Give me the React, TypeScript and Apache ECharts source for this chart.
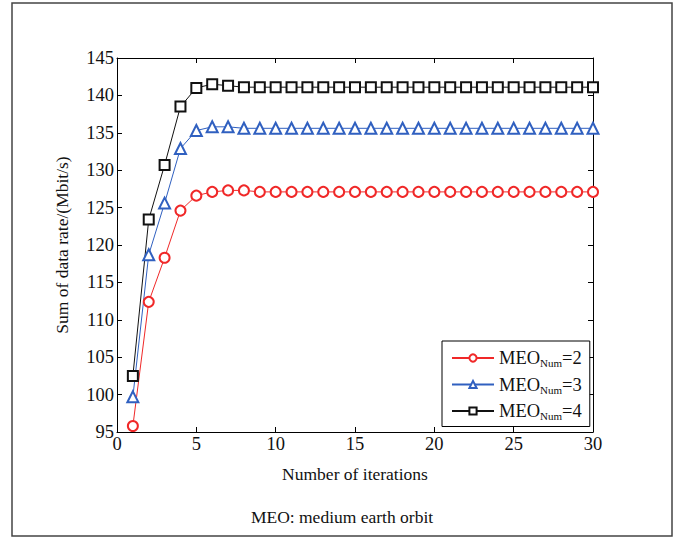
import React, { useEffect, useRef } from "react";
import * as echarts from "echarts";

const iterations = [1,2,3,4,5,6,7,8,9,10,11,12,13,14,15,16,17,18,19,20,21,22,23,24,25,26,27,28,29,30];
const meo2 = [95.8,112.4,118.3,124.6,126.6,127.1,127.3,127.3,127.1,127.1,127.1,127.1,127.1,127.1,127.1,127.1,127.1,127.1,127.1,127.1,127.1,127.1,127.1,127.1,127.1,127.1,127.1,127.1,127.1,127.1];
const meo3 = [99.7,118.7,125.6,132.9,135.3,135.8,135.8,135.6,135.6,135.6,135.6,135.6,135.6,135.6,135.6,135.6,135.6,135.6,135.6,135.6,135.6,135.6,135.6,135.6,135.6,135.6,135.6,135.6,135.6,135.6];
const meo4 = [102.5,123.4,130.7,138.5,141.0,141.5,141.3,141.1,141.1,141.1,141.1,141.1,141.1,141.1,141.1,141.1,141.1,141.1,141.1,141.1,141.1,141.1,141.1,141.1,141.1,141.1,141.1,141.1,141.1,141.1];
const seriesNames = ["MEO_Num=2", "MEO_Num=3", "MEO_Num=4"];
const legendLabels: Record<string, string> = {
  "MEO_Num=2": "MEO{sub|Num}=2",
  "MEO_Num=3": "MEO{sub|Num}=3",
  "MEO_Num=4": "MEO{sub|Num}=4",
};

const FONT = "'Liberation Serif', 'DejaVu Serif', serif";

export default function App() {
  const ref = useRef<HTMLDivElement>(null);
  useEffect(() => {
    document.body.style.margin = "0";
    const chart = echarts.init(ref.current!, null, { renderer: "svg" });
    const mk = (arr: number[]) => arr.map((v, i) => [iterations[i], v]);
    const colors = ["#f02828", "#3060c0", "#111111"];
    const symbols = ["emptyCircle", "emptyTriangle", "emptyRect"];
    const sizes = [10, 11, 10];
    const datas = [meo2, meo3, meo4];
    chart.setOption({
      animation: false,
      backgroundColor: "#ffffff",
      textStyle: { fontFamily: FONT },
      graphic: [
        {
          type: "rect",
          shape: { x: 12, y: 3, width: 660, height: 533 },
          style: { fill: "none", stroke: "#444", lineWidth: 1.5 },
          silent: true,
          z: 100,
        },
        {
          type: "text",
          x: 342,
          y: 517,
          style: {
            text: "MEO: medium earth orbit",
            font: `17.5px ${FONT}`,
            fill: "#111",
            align: "center",
            verticalAlign: "middle",
          },
        },
      ],
      grid: { left: 117, top: 58, width: 476, height: 374, show: false },
      legend: {
        orient: "vertical",
        left: 442,
        top: 341,
        width: 145,
        padding: [7, 8, 5, 9],
        itemWidth: 42,
        itemHeight: 9,
        itemGap: 6,
        backgroundColor: "#fff",
        borderColor: "#000",
        borderWidth: 1,
        borderRadius: 0,
        data: seriesNames,
        formatter: (n: string) => legendLabels[n],
        textStyle: {
          fontFamily: FONT,
          fontSize: 18.5,
          color: "#111",
          height: 20,
          lineHeight: 20,
          rich: {
            sub: { fontSize: 11, fontFamily: FONT, color: "#111", padding: [10, 0, 0, 0] },
          },
        },
      },
      xAxis: [
        {
          type: "value",
          min: 0,
          max: 30,
          interval: 5,
          name: "Number of iterations",
          nameLocation: "middle",
          nameGap: 33,
          nameTextStyle: { fontFamily: FONT, fontSize: 17.5, color: "#111" },
          axisLine: { onZero: false, lineStyle: { color: "#000", width: 1 } },
          axisTick: { inside: true, length: 5, lineStyle: { color: "#000" } },
          axisLabel: { fontFamily: FONT, fontSize: 18.5, color: "#111", margin: 2 },
          splitLine: { show: false },
        },
        {
          type: "value",
          position: "top",
          min: 0,
          max: 30,
          interval: 5,
          axisLine: { onZero: false, lineStyle: { color: "#000", width: 1 } },
          axisTick: { inside: true, length: 5, lineStyle: { color: "#000" } },
          axisLabel: { show: false },
          splitLine: { show: false },
        },
      ],
      yAxis: [
        {
          type: "value",
          min: 95,
          max: 145,
          interval: 5,
          name: "Sum of data rate/(Mbit/s)",
          nameLocation: "middle",
          nameGap: 46,
          nameTextStyle: { fontFamily: FONT, fontSize: 17.5, color: "#111" },
          axisLine: { onZero: false, lineStyle: { color: "#000", width: 1 } },
          axisTick: { inside: true, length: 5, lineStyle: { color: "#000" } },
          axisLabel: { fontFamily: FONT, fontSize: 18.5, color: "#111", margin: 3 },
          splitLine: { show: false },
        },
        {
          type: "value",
          position: "right",
          min: 95,
          max: 145,
          interval: 5,
          axisLine: { onZero: false, lineStyle: { color: "#000", width: 1 } },
          axisTick: { inside: true, length: 5, lineStyle: { color: "#000" } },
          axisLabel: { show: false },
          splitLine: { show: false },
        },
      ],
      series: seriesNames.map((name, i) => ({
        name,
        type: "line",
        xAxisIndex: 0,
        yAxisIndex: 0,
        data: mk(datas[i]),
        symbol: symbols[i],
        symbolSize: sizes[i],
        showAllSymbol: true,
        color: colors[i],
        lineStyle: { color: colors[i], width: 1 },
        itemStyle: { color: colors[i], borderColor: colors[i], borderWidth: 1.2 },
        clip: false,
      })),
    });
    return () => chart.dispose();
  }, []);
  return <div ref={ref} style={{ width: 680, height: 538 }} />;
}
